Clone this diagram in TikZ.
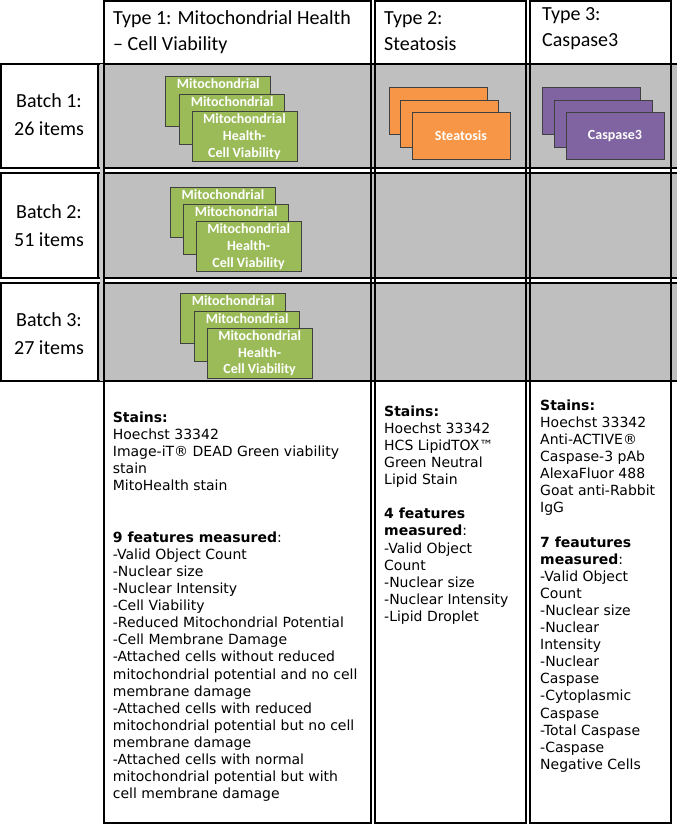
\documentclass[tikz,border=0pt]{standalone}
\usepackage{fontspec}
\setmainfont{Carlito}
\newfontfamily\bodyfont{DejaVu Sans}
\definecolor{cgreen}{HTML}{9BBB59}
\definecolor{corange}{HTML}{F79646}
\definecolor{cpurple}{HTML}{8064A2}
\definecolor{cgray}{HTML}{BFBFBF}
\definecolor{cstrip}{HTML}{CBCBCB}
\newcommand{\backtext}{Mitochondrial\\\phantom{Health-}\\\phantom{Cell Viability}}
\newcommand{\fronttext}{Mitochondrial\\Health-\\Cell Viability}
\begin{document}
\begin{tikzpicture}[x=1pt,y=-1pt,
  frame/.style={draw=black, line width=2.2pt},
  rowbox/.style={draw=black, line width=2.2pt, fill=cgray},
  labbox/.style={draw=black, line width=2.2pt, fill=white},
  card/.style={draw=black!75, line width=0.8pt, inner sep=0pt, align=center,
    text=white, anchor=north west, font=\bfseries\fontsize{14}{16.7}\selectfont},
  gcard/.style={card, fill=cgreen, minimum width=105pt, minimum height=50pt},
  ocard/.style={card, fill=corange, minimum width=98pt, minimum height=47pt},
  pcard/.style={card, fill=cpurple, minimum width=98pt, minimum height=47pt},
  hdr/.style={anchor=north west, inner sep=0pt, align=left, font=\fontsize{20}{26.5}\selectfont},
  body/.style={anchor=north west, inner sep=0pt, align=left, font=\bodyfont\fontsize{14}{17.1}\selectfont},
  batch/.style={anchor=north, inner sep=0pt, align=center, font=\fontsize{20}{28}\selectfont}
]
\useasboundingbox (0,0) rectangle (677,825);
% columns
\fill[white] (104,1) rectangle (371,823);
\fill[white] (375,1) rectangle (526,823);
\fill[white] (530,1) rectangle (671,823);
% rows
\draw[rowbox] (1,64) rectangle (682,168);
\draw[rowbox] (1,173) rectangle (682,278);
\draw[rowbox] (1,283) rectangle (682,381);
\fill[cstrip] (99.5,64) rectangle (103,381);
\draw[labbox] (1,64) rectangle (98,168);
\draw[labbox] (1,173) rectangle (98,278);
\draw[labbox] (1,283) rectangle (98,381);
% column frames
\draw[frame] (104,1) rectangle (371,823);
\draw[frame] (375,1) rectangle (526,823);
\draw[frame] (530,1) rectangle (671,823);
% headers
\node[hdr] (h1) at (113,8) {\rule{0pt}{16pt}Type 1: Mitochondrial Health\\– Cell Viability};
\node[hdr] (h2) at (384,8) {\rule{0pt}{16pt}Type 2:\\Steatosis};
\node[hdr] (h3) at (542,4) {\rule{0pt}{16pt}Type 3:\\Caspase3};
% batch labels
\node[batch] (b1) at (49,91) {\rule{0pt}{16pt}Batch 1:\\26 items};
\node[batch] (b2) at (49,202) {\rule{0pt}{16pt}Batch 2:\\51 items};
\node[batch] (b3) at (49,310) {\rule{0pt}{16pt}Batch 3:\\27 items};
% row 1 cards
\node[gcard] (g1a) at (165.4,76) {\backtext};
\node[gcard] (g1b) at (179.2,93.5) {\backtext};
\node[gcard] (g1c) at (191.5,111.3) {\fronttext};
\node[ocard] (o1a) at (388.6,87.3) {};
\node[ocard] (o1b) at (399.6,99.5) {};
\node[ocard] (o1c) at (411.5,112) {Steatosis};
\node[pcard] (p1a) at (541.9,87.3) {};
\node[pcard] (p1b) at (553.6,99.5) {};
\node[pcard] (p1c) at (565.6,112) {Caspase3};
% row 2 cards
\node[gcard] (g2a) at (170,186.7) {\backtext};
\node[gcard] (g2b) at (183.2,203.8) {\backtext};
\node[gcard] (g2c) at (195.7,221.4) {\fronttext};
% row 3 cards
\node[gcard] (g3a) at (180.2,293.3) {\backtext};
\node[gcard] (g3b) at (194.2,310.5) {\backtext};
\node[gcard] (g3c) at (206.7,328) {\fronttext};
% body texts
\node[body] (t1) at (112.7,410.3) {\rule{0pt}{12pt}\textbf{Stains:}\\
Hoechst 33342\\
Image-iT® DEAD Green viability\\
stain\\
MitoHealth stain\\[34.2pt]
\textbf{9 features measured}:\\
-Valid Object Count\\
-Nuclear size\\
-Nuclear Intensity\\
-Cell Viability\\
-Reduced Mitochondrial Potential\\
-Cell Membrane Damage\\
-Attached cells without reduced\\
mitochondrial potential and no cell\\
membrane damage\\
-Attached cells with reduced\\
mitochondrial potential but no cell\\
membrane damage\\
-Attached cells with normal\\
mitochondrial potential but with\\
cell membrane damage};
\node[body] (t2) at (384,404) {\rule{0pt}{12pt}\textbf{Stains:}\\
Hoechst 33342\\
HCS LipidTOX™\\
Green Neutral\\
Lipid Stain\\[17.1pt]
\textbf{4 features}\\
\textbf{measured}:\\
-Valid Object\\
Count\\
-Nuclear size\\
-Nuclear Intensity\\
-Lipid Droplet};
\node[body] (t3) at (540,398) {\rule{0pt}{12pt}\textbf{Stains:}\\
Hoechst 33342\\
Anti-ACTIVE®\\
Caspase-3 pAb\\
AlexaFluor 488\\
Goat anti-Rabbit\\
IgG\\[17.1pt]
\textbf{7 feautures}\\
\textbf{measured}:\\
-Valid Object\\
Count\\
-Nuclear size\\
-Nuclear\\
Intensity\\
-Nuclear\\
Caspase\\
-Cytoplasmic\\
Caspase\\
-Total Caspase\\
-Caspase\\
Negative Cells};
\end{tikzpicture}
\end{document}
